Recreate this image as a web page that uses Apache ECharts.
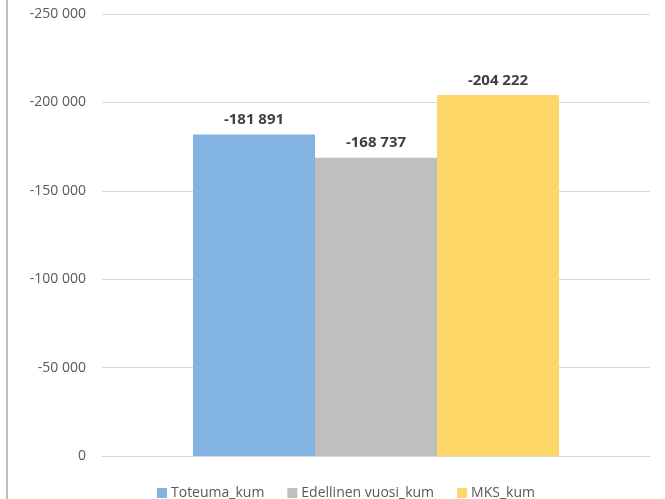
<!DOCTYPE html>
<html>
<head>
<meta charset="utf-8">
<script src="https://cdn.jsdelivr.net/npm/echarts@6/dist/echarts.min.js"></script>
<style>html,body{margin:0;padding:0;background:#fff;}#c{width:665px;height:499px;}</style>
</head>
<body>
<div id="c"></div>
<script>
const categories = [''];
const seriesNames = ['Toteuma_kum', 'Edellinen vuosi_kum', 'MKS_kum'];
const toteuma = [-181891];
const edellinen = [-168737];
const mks = [-204222];
const colors = ['#83b3e0', '#bfbfbf', '#fdd767'];

function fmt(v) {
  const s = Math.abs(v).toString().replace(/\B(?=(\d{3})+(?!\d))/g, ' ');
  return (v < 0 ? '-' : '') + s;
}
const font = '"Open Sans", "Noto Sans", sans-serif';
const chart = echarts.init(document.getElementById('c'));
const dataSets = [toteuma, edellinen, mks];
chart.setOption({
  animation: false,
  textStyle: { fontFamily: font },
  grid: { left: 102, right: 15, top: 14, bottom: 43, containLabel: false },
  graphic: [{ type: 'line', shape: { x1: 7, y1: 0, x2: 7, y2: 499 }, style: { stroke: '#bfbfbf', lineWidth: 2 } }],
  legend: {
    left: 152, top: 481, itemWidth: 10, itemHeight: 10, itemGap: 23,
    icon: 'rect',
    textStyle: { color: '#595959', fontSize: 14, fontFamily: font, padding: [0, 0, 0, -1] },
    data: seriesNames
  },
  xAxis: {
    type: 'category', data: categories,
    axisLine: { show: true, lineStyle: { color: '#d9d9d9', width: 1 } },
    axisTick: { show: false }, axisLabel: { show: false }
  },
  yAxis: {
    type: 'value', inverse: true, min: -250000, max: 0, interval: 50000,
    axisLine: { show: false }, axisTick: { show: false },
    splitLine: { lineStyle: { color: '#d9d9d9', width: 1 } },
    axisLabel: { color: '#595959', fontSize: 14, margin: 16, fontFamily: font, formatter: v => fmt(v) }
  },
  series: seriesNames.map((n, i) => ({
    name: n, type: 'bar', data: dataSets[i], barWidth: 122, barGap: '0%',
    itemStyle: { color: colors[i] },
    label: { show: true, position: 'top', distance: 7, color: '#404040', fontWeight: 'bold', fontSize: 15, fontFamily: font, formatter: p => fmt(p.value) }
  }))
});
</script>
</body>
</html>
